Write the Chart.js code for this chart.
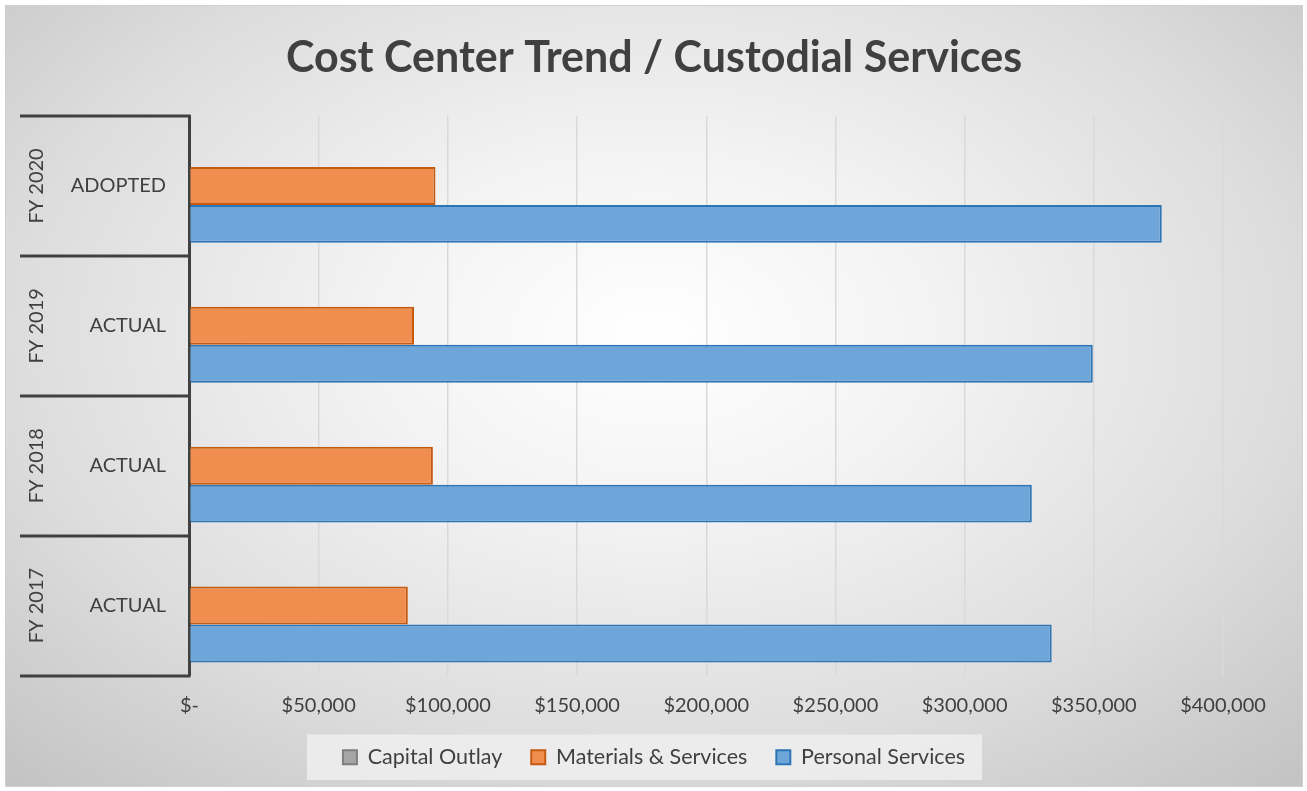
<!DOCTYPE html>
<html>
<head>
<meta charset="utf-8">
<script src="https://cdn.jsdelivr.net/npm/chart.js@4.4.1/dist/chart.umd.min.js"></script>
<style>
  html, body { margin: 0; padding: 0; background: #ffffff; }
  #frame {
    position: absolute; left: 5px; top: 5px; width: 1296px; height: 780px;
    border: 1px solid #d0d0d0;
    background: radial-gradient(ellipse 72% 78% at 50% 42%, #ffffff 0%, #f3f3f3 30%, #dddddd 68%, #c4c4c4 100%);
  }
  #chart { display: block; }
</style>
</head>
<body>
<div id="frame"><canvas id="chart" width="1296" height="780"></canvas></div>
<script>
// Cost center trend data
const years = ["FY 2020", "FY 2019", "FY 2018", "FY 2017"]
const stages = ["ADOPTED", "ACTUAL", "ACTUAL", "ACTUAL"]
const capitalOutlay = [0, 0, 0, 0]
const materialsServices = [95200, 86900, 94200, 84500]
const personalServices = [376300, 349600, 326000, 333700]
const xTicks = [0, 50000, 100000, 150000, 200000, 250000, 300000, 350000, 400000]
const titleText = "Cost Center Trend / Custodial Services"

const FONT = "Lato, 'Open Sans', sans-serif"
const TEXT = "#404040"

function money(v) {
  if (v === 0) return "$-"
  return "$" + String(v).replace(/\B(?=(\d{3})+(?!\d))/g, ",")
}

// legend background box, title, and the two-level category axis (labels + separators)
const decorations = {
  id: "decorations",
  beforeDraw(chart) {
    const lg = chart.legend
    if (!lg || !lg.legendHitBoxes.length) return
    const boxes = lg.legendHitBoxes
    const first = boxes[0]
    const last = boxes[boxes.length - 1]
    const ctx = chart.ctx
    ctx.save()
    ctx.fillStyle = "rgba(238,238,238,0.85)"
    ctx.fillRect(first.left - 36, first.top - 12, last.left + last.width - first.left + 53, first.height + 24)
    ctx.restore()
  },
  afterDraw(chart) {
    const y = chart.scales.y
    const area = chart.chartArea
    const ctx = chart.ctx
    const step = (area.bottom - area.top) / years.length
    ctx.save()

    ctx.fillStyle = TEXT
    ctx.font = "bold 43px " + FONT
    ctx.textAlign = "center"
    ctx.textBaseline = "middle"
    ctx.fillText(titleText, chart.width / 2, 52)

    ctx.strokeStyle = TEXT
    ctx.lineWidth = 3
    for (let i = 0; i <= years.length; i++) {
      const py = Math.round(area.top + i * step)
      ctx.beginPath()
      ctx.moveTo(14, py)
      ctx.lineTo(area.left + 1, py)
      ctx.stroke()
    }

    ctx.font = "20px " + FONT
    // inner level: stage labels
    ctx.textAlign = "right"
    stages.forEach((label, i) => {
      ctx.fillText(label, area.left - 23.5, y.getPixelForValue(i))
    })
    // outer level: fiscal years, rotated
    ctx.textAlign = "center"
    years.forEach((label, i) => {
      const cy = y.getPixelForValue(i)
      ctx.save()
      ctx.translate(31, cy)
      ctx.rotate(-Math.PI / 2)
      ctx.fillText(label, 0, 0)
      ctx.restore()
    })
    ctx.restore()
  },
}

new Chart(document.getElementById("chart"), {
  type: "bar",
  data: {
    labels: stages,
    datasets: [
      {
        label: "Capital Outlay",
        data: capitalOutlay,
        backgroundColor: "#a5a5a5",
        borderColor: "#7f7f7f",
        borderWidth: 2,
      },
      {
        label: "Materials & Services",
        data: materialsServices,
        backgroundColor: "#ef8e4e",
        borderColor: "#c55a11",
        borderWidth: 2,
      },
      {
        label: "Personal Services",
        data: personalServices,
        backgroundColor: "#6fa6d9",
        borderColor: "#2e75b6",
        borderWidth: 2,
      },
    ],
  },
  options: {
    indexAxis: "y",
    responsive: false,
    animation: false,
    categoryPercentage: 0.814,
    barPercentage: 1,
    layout: {
      padding: { left: 79, right: 79, top: 110, bottom: 8 },
    },
    plugins: {
      title: { display: false },
      legend: {
        position: "bottom",
        labels: {
          color: TEXT,
          font: { family: FONT, size: 21.5 },
          boxWidth: 14,
          boxHeight: 14,
          padding: 29,
        },
      },
      tooltip: { enabled: false },
    },
    scales: {
      x: {
        min: 0,
        max: 400000,
        afterBuildTicks: (scale) => {
          scale.ticks = xTicks.map((v) => ({ value: v }))
        },
        afterFit: (scale) => {
          scale.height = 42
        },
        ticks: {
          color: TEXT,
          font: { family: FONT, size: 20 },
          padding: 18,
          callback: (v) => money(v),
        },
        grid: { color: "#d9d9d9", lineWidth: 1.5, drawTicks: false },
        border: { display: false },
      },
      y: {
        afterFit: (scale) => {
          scale.width = 104.5
        },
        ticks: { display: false },
        grid: { display: false, drawTicks: false },
        border: { color: TEXT, width: 3 },
      },
    },
  },
  plugins: [decorations],
})
</script>
</body>
</html>
